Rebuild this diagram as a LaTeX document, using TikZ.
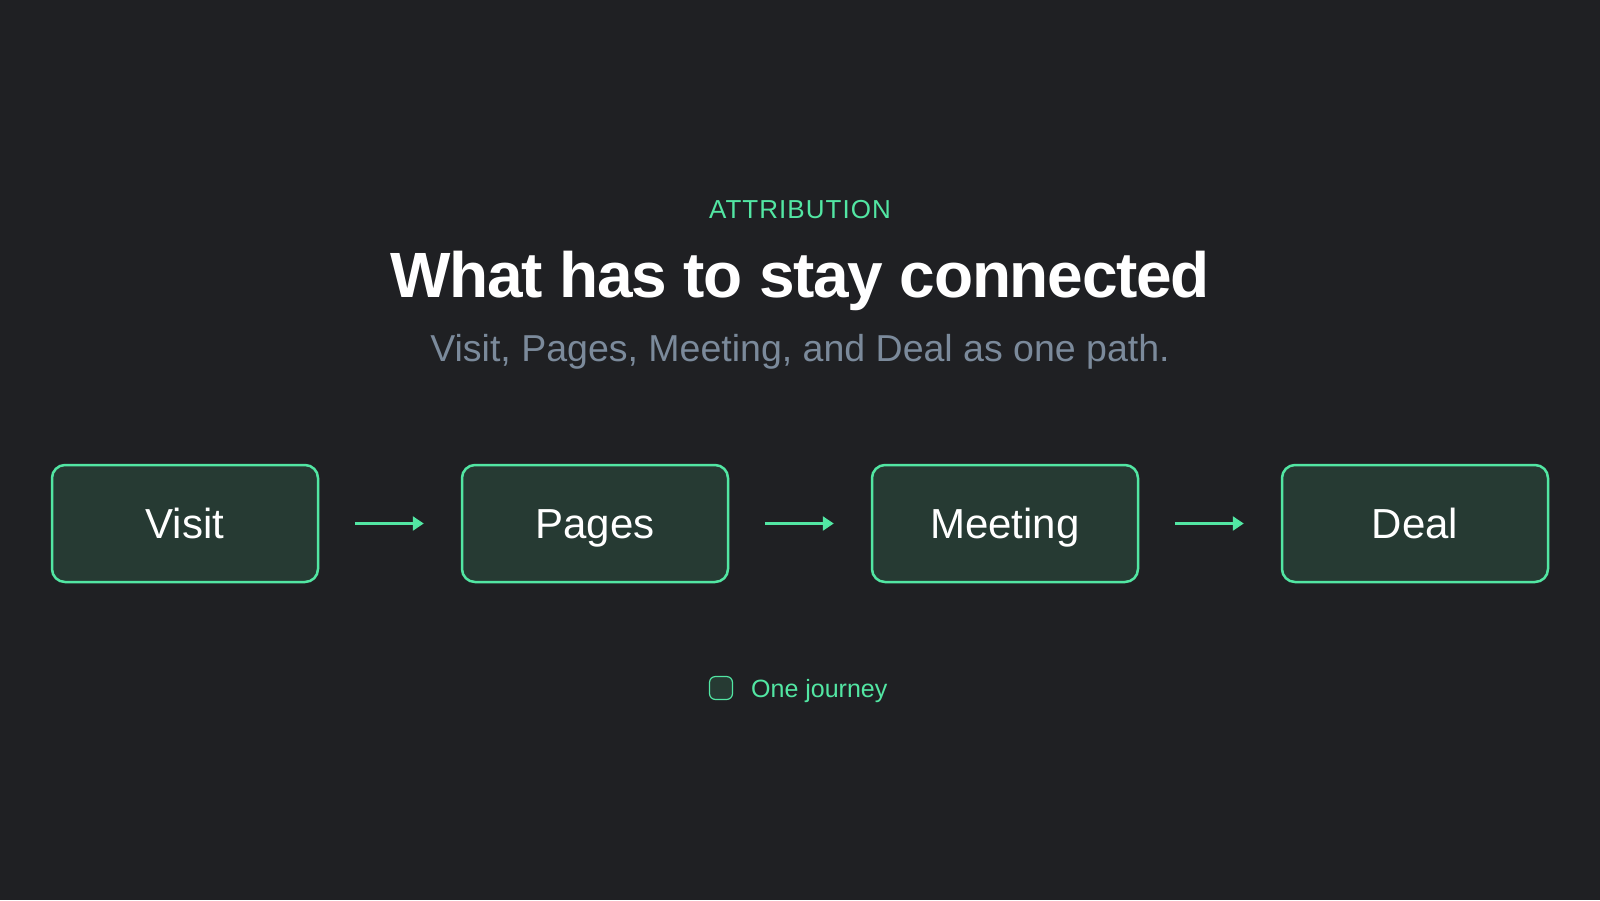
\documentclass[tikz,border=0pt]{standalone}
\usepackage{fontspec}
\usepackage{tikz}
\usetikzlibrary{calc}
\usetikzlibrary{arrows.meta}
\setmainfont{Liberation Sans}
\newfontfamily\eyebrowfont[LetterSpace=4]{Liberation Sans}
\newfontfamily\titlefont[LetterSpace=-2]{Liberation Sans}
\definecolor{bg}{HTML}{1F2023}
\definecolor{mint}{HTML}{52E6A3}
\definecolor{boxfill}{HTML}{263A33}
\definecolor{muted}{HTML}{7B8A9B}
\tikzset{
	stage/.style={draw=mint, line width=2.5pt, fill=boxfill, rounded corners=13pt,
		minimum width=266pt, minimum height=117pt, text=white, inner sep=0pt,
		text height=30pt, text depth=0pt, font=\fontsize{42}{48}\selectfont},
	flow/.style={draw=mint, line width=2.5pt, -{Triangle[length=11pt,width=14pt]},
		shorten <=36pt, shorten >=37pt},
}
\begin{document}
\begin{tikzpicture}[x=1pt,y=-1pt]
		\fill[bg] (0,0) rectangle (1600,900);
		\useasboundingbox (0,0) rectangle (1600,900);
		% heading
		\node[anchor=base,text=mint,inner sep=0pt] (eyebrow) at (800,218) {\eyebrowfont\fontsize{26}{30}\selectfont ATTRIBUTION};
		\node[anchor=base,text=white,inner sep=0pt] (title) at (800,297) {\titlefont\bfseries\fontsize{64}{70}\selectfont What has to stay connected};
		\node[anchor=base,text=muted,inner sep=0pt] (sub) at (800,361) {\fontsize{37.5}{42}\selectfont Visit, Pages, Meeting, and Deal as one path.};
		% stages
		\node[stage] (visit) at (185,523.5) {Visit};
		\node[stage] (pages) at (595,523.5) {Pages};
		\node[stage] (meeting) at (1005,523.5) {Meeting};
		\node[stage] (deal) at (1415,523.5) {Deal};
		\draw[flow] (visit) -- (pages);
		\draw[flow] (pages) -- (meeting);
		\draw[flow] (meeting) -- (deal);
		% legend
		\node[draw=mint, line width=1.2pt, fill=boxfill, rounded corners=6pt, minimum size=23pt, inner sep=0pt] (key) at (721,688) {};
		\node[anchor=base west,text=mint,inner sep=0pt] (keytext) at (751,697) {\fontsize{25}{30}\selectfont One journey};
	\end{tikzpicture}
\end{document}
